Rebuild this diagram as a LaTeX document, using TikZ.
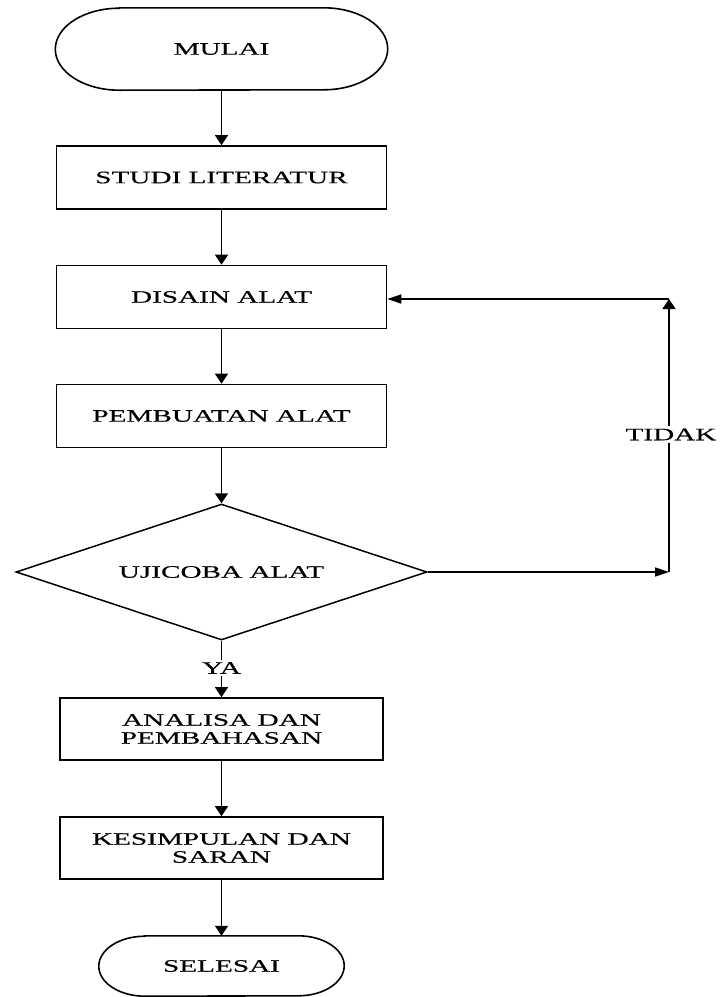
\documentclass[tikz,border=0pt]{standalone}
\usepackage{fontspec}
\setmainfont{Liberation Serif}[FakeStretch=1.67,FakeBold=0.4]
\usetikzlibrary{arrows.meta,shapes.geometric,calc}
\newcommand\drawterm[3]{%
  \draw[line width=1.6pt] ($(#1.north west)+(#2,0)$) -- ($(#1.north east)+(-#2,0)$)
    arc[start angle=90,end angle=-90,x radius=#2pt,y radius=#3pt]
    -- ($(#1.south west)+(#2,0)$)
    arc[start angle=270,end angle=90,x radius=#2pt,y radius=#3pt] -- cycle;}
\begin{document}
\begin{tikzpicture}[x=1pt,y=1pt,
  every node/.style={font=\fontsize{17.5}{18}\selectfont, inner sep=0pt},
  term/.style={},
  proc/.style={draw, line width=1.7pt, minimum width=330pt, minimum height=63pt, align=center},
  proctwo/.style={draw, line width=1.7pt, minimum width=323pt, minimum height=62pt, align=center},
  decision/.style={shape=diamond, aspect=3, draw, line width=1.5pt, minimum width=411pt, minimum height=136pt},
  lbl/.style={fill=white, inner sep=2.5pt},
  varrow/.style={line width=1.6pt, -{Triangle[length=10pt,width=13pt]}},
  harrow/.style={line width=1.6pt, -{Triangle[length=14pt,width=9pt]}}
]
\useasboundingbox (0,0) rectangle (721,-997);

\node[term, minimum width=332pt, minimum height=82pt] (mulai) at (221.5,-49) {MULAI};
\node[proc] (studi) at (221.5,-177.5) {STUDI LITERATUR};
\node[proc] (disain) at (221.5,-297) {DISAIN ALAT};
\node[proc] (buat) at (221.5,-416) {PEMBUATAN ALAT};
\node[decision] (uji) at (221.5,-572) {UJICOBA ALAT};
\node[proctwo] (analisa) at (221.5,-729) {ANALISA DAN\\PEMBAHASAN};
\node[proctwo] (simpul) at (221.5,-848) {KESIMPULAN DAN\\SARAN};
\node[term, minimum width=245pt, minimum height=60pt] (selesai) at (221.5,-966) {SELESAI};

\drawterm{mulai}{64}{41}
\drawterm{selesai}{46}{30}

\draw[varrow] (mulai.south) -- (studi.north);
\draw[varrow] (studi.south) -- (disain.north);
\draw[varrow] (disain.south) -- (buat.north);
\draw[varrow] (buat.south) -- (uji.north);
\draw[varrow] (uji.south) -- (analisa.north);
\draw[varrow] (analisa.south) -- (simpul.north);
\draw[varrow] (simpul.south) -- (selesai.north);

\coordinate (cr) at (669,-572);
\coordinate (ct) at (669,-299);
\draw[harrow] (uji.east) -- (cr);
\draw[varrow] (cr) -- (ct);
\draw[harrow] (ct) -- (ct -| disain.east);

\node[lbl] (tidak) at (671,-434.5) {TIDAK};
\node[lbl] (ya) at (221.5,-668) {YA};
\end{tikzpicture}
\end{document}
